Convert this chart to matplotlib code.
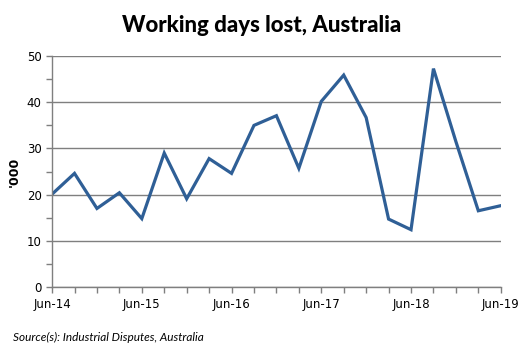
import matplotlib
matplotlib.use("Agg")
import matplotlib.pyplot as plt
from matplotlib.ticker import MultipleLocator

# Quarterly working days lost ('000), Jun-14 .. Jun-19
quarters = ["Jun-14", "Sep-14", "Dec-14", "Mar-15", "Jun-15", "Sep-15", "Dec-15",
            "Mar-16", "Jun-16", "Sep-16", "Dec-16", "Mar-17", "Jun-17", "Sep-17",
            "Dec-17", "Mar-18", "Jun-18", "Sep-18", "Dec-18", "Mar-19", "Jun-19"]
days_lost = [20.1, 24.6, 17.0, 20.4, 14.8, 29.0, 19.1,
             27.8, 24.6, 35.0, 37.1, 25.7, 40.2, 45.9,
             36.7, 14.7, 12.4, 47.3, 31.5, 16.5, 17.6]

LINE = "#2f5f96"
GRID = "#7f7f7f"

fig = plt.figure(figsize=(5.26, 3.6), dpi=100)
ax = fig.add_axes([0.099, 0.203, 0.853, 0.641])

x = list(range(len(quarters)))
ax.plot(x, days_lost, color=LINE, lw=2.3, solid_joinstyle="miter")

ax.set_xlim(0, len(quarters) - 1)
ax.set_ylim(0, 50)
ax.set_xticks(x[::4])
ax.set_xticklabels(quarters[::4])
ax.xaxis.set_minor_locator(MultipleLocator(1))
ax.yaxis.set_major_locator(MultipleLocator(10))
ax.yaxis.set_minor_locator(MultipleLocator(5))
ax.grid(axis="y", color=GRID, lw=1)
ax.set_axisbelow(True)

for s in ["top", "right"]:
    ax.spines[s].set_visible(False)
for s in ["left", "bottom"]:
    ax.spines[s].set_color(GRID)
    ax.spines[s].set_linewidth(1)

ax.tick_params(axis="both", which="both", color=GRID, width=1, direction="out")
ax.tick_params(axis="both", which="major", length=4, labelsize=8.5)
ax.tick_params(axis="both", which="minor", length=4)
ax.tick_params(axis="x", pad=4)

ax.set_ylabel("'000", fontsize=9, fontweight="bold", labelpad=4)

fig.text(0.498, 0.93, "Working days lost, Australia", ha="center", va="center",
         fontsize=16, fontweight="black", family="Lato")
fig.text(0.025, 0.063, "Source(s): Industrial Disputes, Australia", ha="left",
         va="center", fontsize=8.5, style="italic", family="Lato")

fig.savefig("out.png", dpi=100)
